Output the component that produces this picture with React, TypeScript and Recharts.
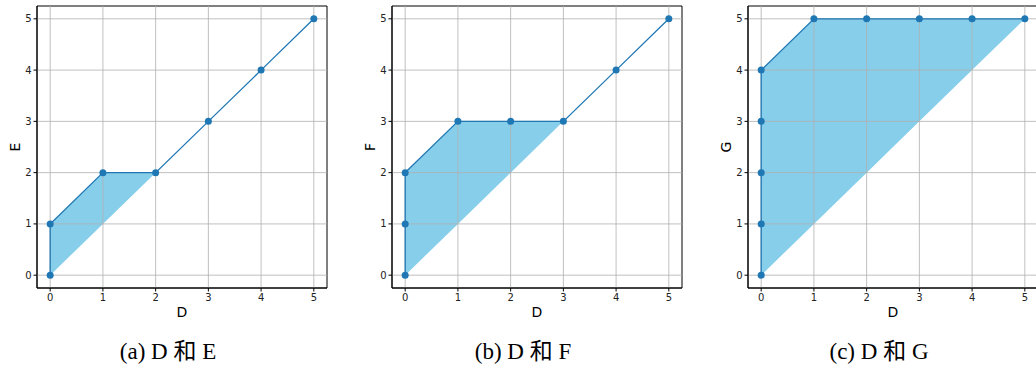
import { Area, ComposedChart, Line, ReferenceArea, ReferenceLine, XAxis, YAxis } from "recharts";

// shared axis ticks for every panel
const TICKS = [0, 1, 2, 3, 4, 5];
const DOMAIN: [number, number] = [-0.25, 5.25];

// (a) D vs E
const dA = [0, 0, 1, 2, 3, 4, 5];
const eA = [0, 1, 2, 2, 3, 4, 5];
// (b) D vs F
const dB = [0, 0, 0, 1, 2, 3, 4, 5];
const fB = [0, 1, 2, 3, 3, 3, 4, 5];
// (c) D vs G
const dC = [0, 0, 0, 0, 0, 1, 2, 3, 4, 5];
const gC = [0, 1, 2, 3, 4, 5, 5, 5, 5, 5];

const BLUE = "#1f77b4";
const SKY = "#87ceeb";
const GRID = "#b0b0b0";
const tickStyle = { fontFamily: "DejaVu Sans", fontSize: 10, fill: "#222" };
const labelStyle = { fontFamily: "DejaVu Sans", fontSize: 14, fill: "#000" };

type PanelProps = {
  xs: number[];
  ys: number[];
  yName: string;
  caption: string;
  left: number;
};

function Panel({ xs, ys, yName, caption, left }: PanelProps) {
  const data = xs.map((d, i) => ({ d, v: ys[i] }));
  return (
    <>
      <div style={{ position: "absolute", left, top: 0 }}>
        <ComposedChart width={340} height={320} data={data} margin={{ top: 6, right: 13, bottom: 2, left: 12 }}>
          <XAxis
            dataKey="d"
            type="number"
            domain={DOMAIN}
            ticks={TICKS}
            allowDataOverflow
            height={30}
            tick={tickStyle}
            tickSize={3.5}
            tickMargin={2}
            stroke="#000"
            label={{ value: "D", position: "insideBottom", offset: 1, style: labelStyle }}
          />
          <YAxis
            type="number"
            domain={DOMAIN}
            ticks={TICKS}
            allowDataOverflow
            width={25}
            tick={tickStyle}
            tickSize={3.5}
            tickMargin={2}
            stroke="#000"
            label={{
              value: yName,
              angle: -90,
              position: "insideLeft",
              offset: 3,
              style: { ...labelStyle, textAnchor: "middle" },
            }}
          />
          {/* region between the path and the diagonal */}
          <Area type="linear" dataKey={(p: { d: number; v: number }) => [p.d, p.v]} stroke="none" fill={SKY} fillOpacity={1} isAnimationActive={false} />
          {TICKS.map((t) => (
            <ReferenceLine key={`x${t}`} x={t} stroke={GRID} strokeWidth={0.8} />
          ))}
          {TICKS.map((t) => (
            <ReferenceLine key={`y${t}`} y={t} stroke={GRID} strokeWidth={0.8} />
          ))}
          {/* axes frame */}
          <ReferenceArea x1={DOMAIN[0]} x2={DOMAIN[1]} y1={DOMAIN[0]} y2={DOMAIN[1]} fill="none" fillOpacity={0} stroke="#000" strokeWidth={1} strokeOpacity={1} />
          <Line
            type="linear"
            dataKey="v"
            stroke={BLUE}
            strokeWidth={1.3}
            dot={{ r: 3.5, fill: BLUE, stroke: BLUE, strokeWidth: 0 }}
            activeDot={false}
            isAnimationActive={false}
          />
        </ComposedChart>
      </div>
      <div
        style={{
          position: "absolute",
          left: left + 18,
          width: 300,
          top: 338,
          textAlign: "center",
          fontFamily: "'Liberation Serif', 'Noto Sans CJK SC', serif",
          fontSize: 23,
          lineHeight: "28px",
          color: "#000",
        }}
      >
        {caption}
      </div>
    </>
  );
}

export default function App() {
  return (
    <div style={{ position: "absolute", left: 0, top: 0, width: 1036, height: 367, overflow: "hidden", background: "#fff" }}>
      <Panel xs={dA} ys={eA} yName="E" caption="(a) D 和 E" left={0} />
      <Panel xs={dB} ys={fB} yName="F" caption="(b) D 和 F" left={355} />
      <Panel xs={dC} ys={gC} yName="G" caption="(c) D 和 G" left={711} />
    </div>
  );
}
